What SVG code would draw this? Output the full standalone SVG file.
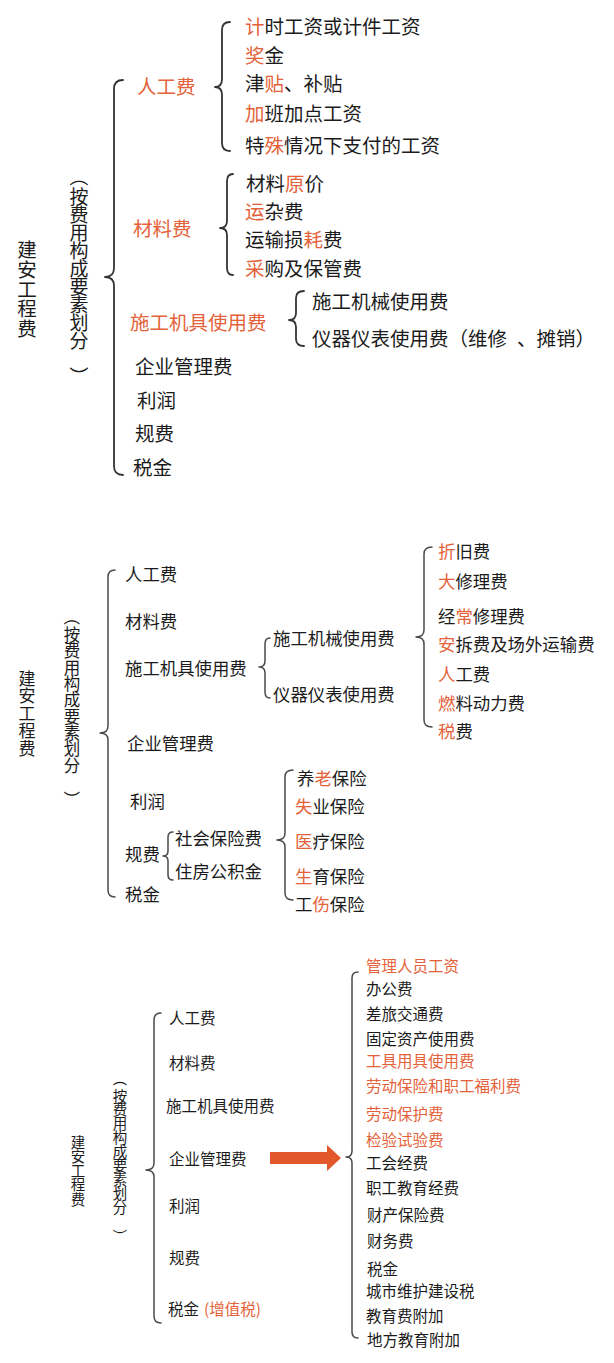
<svg xmlns="http://www.w3.org/2000/svg" width="614" height="1363" viewBox="0 0 614 1363">
<style>
text{font-family:"Noto Sans CJK SC","Noto Sans",sans-serif;fill:#1b1b1b;dominant-baseline:central}
.a{font-size:19.5px}
.b{font-size:17.4px}
.c{font-size:15.5px}
.o{fill:#E4623A}
.m{text-anchor:middle}
.br{fill:none;stroke:#333;stroke-width:1.8;stroke-linejoin:round;stroke-linecap:round}
.br2{fill:none;stroke:#4a4a4a;stroke-width:1.5;stroke-linejoin:round;stroke-linecap:round}
.arr{fill:#E2582B}
</style>
<rect width="614" height="1363" fill="#fff"/>
<g id="connectors">
<path class="br" d="M123,80 Q114,80 114,89 L114,268 Q114,277 105,277 Q114,277 114,286 L114,466 Q114,475 123,475"/>
<path class="br" d="M230,22 Q222,22 222,30 L222,79 Q222,87 215,87 Q222,87 222,95 L222,143 Q222,151 230,151"/>
<path class="br" d="M233,174 Q227,174 227,181 L227,221 Q227,228 220,228 Q227,228 227,235 L227,268 Q227,275 233,275"/>
<path class="br" d="M304,291 Q296,291 296,298 L296,313 Q296,320 289,320 Q296,320 296,327 L296,339 Q296,346 304,346"/>
<path class="br2" d="M115,570 Q108,570 108,577 L108,726 Q108,733 100,733 Q108,733 108,740 L108,890 Q108,897 115,897"/>
<path class="br2" d="M270,638 Q265,638 265,644 L265,661 Q265,667 259,667 Q265,667 265,673 L265,692 Q265,698 270,698"/>
<path class="br2" d="M432,547 Q424,547 424,554 L424,630 Q424,637 416,637 Q424,637 424,644 L424,720 Q424,727 432,727"/>
<path class="br2" d="M173,832 Q168,832 168,837 L168,851 Q168,856 163,856 Q168,856 168,861 L168,875 Q168,880 173,880"/>
<path class="br2" d="M293,770 Q285,770 285,777 L285,833 Q285,840 277,840 Q285,840 285,847 L285,893 Q285,900 293,900"/>
<path class="br2" d="M161,1013 Q154,1013 154,1020 L154,1163 Q154,1170 146,1170 Q154,1170 154,1177 L154,1316 Q154,1323 161,1323"/>
<path class="br2" d="M358,972 Q352,972 352,978 L352,1151 Q352,1157 346,1157 Q352,1157 352,1163 L352,1332 Q352,1338 358,1338"/>
<polygon class="arr" points="270,1152 327,1152 327,1145 341,1158 327,1171 327,1164 270,1164"/>
</g>

<!-- Section 1 -->
<g id="s1-root"><text class="a m" x="27 27 27 27 27" y="248 268 288 307 327">建安工程费</text></g>
<g id="s1-by">
<text class="m" style="font-size:19px" x="79" y="177" transform="rotate(90 79 177)">（</text>
<text class="m" style="font-size:19px" x="79 79 79 79 79 79 79 79 79 79" y="195 213 231 249 267 285 303 321 339 357">按费用构成要素划分</text>
<text class="m" style="font-size:19px" x="79" y="376" transform="rotate(90 79 376)">）</text>
</g>
<g id="s1-rg"><text class="a o" x="137" y="85">人工费</text></g>
<g id="s1-rg1"><text class="a" x="245" y="25"><tspan class="o">计</tspan>时工资或计件工资</text></g>
<g id="s1-rg2"><text class="a" x="245" y="54"><tspan class="o">奖</tspan>金</text></g>
<g id="s1-rg3"><text class="a" x="245" y="82">津<tspan class="o">贴</tspan>、补贴</text></g>
<g id="s1-rg4"><text class="a" x="245" y="112"><tspan class="o">加</tspan>班加点工资</text></g>
<g id="s1-rg5"><text class="a" x="245" y="144">特<tspan class="o">殊</tspan>情况下支付的工资</text></g>
<g id="s1-cl"><text class="a o" x="133" y="227">材料费</text></g>
<g id="s1-cl1"><text class="a" x="246" y="182">材料<tspan class="o">原</tspan>价</text></g>
<g id="s1-cl2"><text class="a" x="245" y="210"><tspan class="o">运</tspan>杂费</text></g>
<g id="s1-cl3"><text class="a" x="245" y="238">运输损<tspan class="o">耗</tspan>费</text></g>
<g id="s1-cl4"><text class="a" x="245" y="267"><tspan class="o">采</tspan>购及保管费</text></g>
<g id="s1-jj"><text class="a o" x="130" y="321">施工机具使用费</text></g>
<g id="s1-jj1"><text class="a" x="312" y="300">施工机械使用费</text></g>
<g id="s1-jj2"><text class="a" x="312" y="337">仪器仪表使用费（维修<tspan dx="10">、</tspan>摊销）</text></g>
<g id="s1-gl"><text class="a" x="135" y="365">企业管理费</text></g>
<g id="s1-lr"><text class="a" x="137" y="399">利润</text></g>
<g id="s1-gf"><text class="a" x="135" y="432">规费</text></g>
<g id="s1-sj"><text class="a" x="133" y="466">税金</text></g>

<!-- Section 2 -->
<g id="s2-root"><text class="m" style="font-size:17px" x="27 27 27 27 27" y="677 694.5 712 729.5 747">建安工程费</text></g>
<g id="s2-by">
<text class="m" style="font-size:16.5px" x="72" y="617" transform="rotate(90 72 617)">（</text>
<text class="m" style="font-size:16.5px" x="72 72 72 72 72 72 72 72 72 72" y="634 650.3 666.7 683 699.3 715.7 732 748.3 764.7 781">按费用构成要素划分</text>
<text class="m" style="font-size:16.5px" x="72" y="799" transform="rotate(90 72 799)">）</text>
</g>
<g id="s2-rg"><text class="b" x="125" y="573">人工费</text></g>
<g id="s2-cl"><text class="b" x="125" y="620">材料费</text></g>
<g id="s2-jj"><text class="b" x="125" y="667">施工机具使用费</text></g>
<g id="s2-gl"><text class="b" x="127" y="742">企业管理费</text></g>
<g id="s2-lr"><text class="b" x="130" y="800">利润</text></g>
<g id="s2-gf"><text class="b" x="125" y="853">规费</text></g>
<g id="s2-sj"><text class="b" x="125" y="893">税金</text></g>
<g id="s2-jx"><text class="b" x="273" y="637">施工机械使用费</text></g>
<g id="s2-yq"><text class="b" x="273" y="693">仪器仪表使用费</text></g>
<g id="s2-jx1"><text class="b" x="438" y="550"><tspan class="o">折</tspan>旧费</text></g>
<g id="s2-jx2"><text class="b" x="438" y="580"><tspan class="o">大</tspan>修理费</text></g>
<g id="s2-jx3"><text class="b" x="438" y="615">经<tspan class="o">常</tspan>修理费</text></g>
<g id="s2-jx4"><text class="b" x="438" y="643"><tspan class="o">安</tspan>拆费及场外运输费</text></g>
<g id="s2-jx5"><text class="b" x="438" y="673"><tspan class="o">人</tspan>工费</text></g>
<g id="s2-jx6"><text class="b" x="438" y="702"><tspan class="o">燃</tspan>料动力费</text></g>
<g id="s2-jx7"><text class="b" x="438" y="730"><tspan class="o">税</tspan>费</text></g>
<g id="s2-sb"><text class="b" x="175" y="837">社会保险费</text></g>
<g id="s2-gj"><text class="b" x="175" y="870">住房公积金</text></g>
<g id="s2-sb1"><text class="b" x="297" y="777">养<tspan class="o">老</tspan>保险</text></g>
<g id="s2-sb2"><text class="b" x="295" y="805"><tspan class="o">失</tspan>业保险</text></g>
<g id="s2-sb3"><text class="b" x="295" y="840"><tspan class="o">医</tspan>疗保险</text></g>
<g id="s2-sb4"><text class="b" x="295" y="875"><tspan class="o">生</tspan>育保险</text></g>
<g id="s2-sb5"><text class="b" x="295" y="903">工<tspan class="o">伤</tspan>保险</text></g>

<!-- Section 3 -->
<g id="s3-root"><text class="m" style="font-size:14.5px" x="78 78 78 78 78" y="1141 1155.3 1169.5 1183.8 1198">建安工程费</text></g>
<g id="s3-by">
<text class="m" style="font-size:14.5px" x="120" y="1079" transform="rotate(90 120 1079)">（</text>
<text class="m" style="font-size:14.5px" x="120 120 120 120 120 120 120 120 120 120" y="1095 1108.9 1122.8 1136.7 1150.6 1164.5 1178.4 1192.3 1206.2 1220">按费用构成要素划分</text>
<text class="m" style="font-size:14.5px" x="120" y="1236" transform="rotate(90 120 1236)">）</text>
</g>
<g id="s3-rg"><text class="c" x="169" y="1017">人工费</text></g>
<g id="s3-cl"><text class="c" x="169" y="1062">材料费</text></g>
<g id="s3-jj"><text class="c" x="166" y="1105">施工机具使用费</text></g>
<g id="s3-gl"><text class="c" x="169" y="1158">企业管理费</text></g>
<g id="s3-lr"><text class="c" x="169" y="1205">利润</text></g>
<g id="s3-gf"><text class="c" x="169" y="1257">规费</text></g>
<g id="s3-sj"><text class="c" x="168" y="1308">税金<tspan class="o" dx="5">(增值税)</tspan></text></g>
<g id="s3-g1"><text class="c o" x="366" y="965">管理人员工资</text></g>
<g id="s3-g2"><text class="c" x="366" y="988">办公费</text></g>
<g id="s3-g3"><text class="c" x="366" y="1013">差旅交通费</text></g>
<g id="s3-g4"><text class="c" x="366" y="1038">固定资产使用费</text></g>
<g id="s3-g5"><text class="c o" x="366" y="1060">工具用具使用费</text></g>
<g id="s3-g6"><text class="c o" x="366" y="1085">劳动保险和职工福利费</text></g>
<g id="s3-g7"><text class="c o" x="366" y="1113">劳动保护费</text></g>
<g id="s3-g8"><text class="c o" x="366" y="1139">检验试验费</text></g>
<g id="s3-g9"><text class="c" x="366" y="1162">工会经费</text></g>
<g id="s3-g10"><text class="c" x="366" y="1187">职工教育经费</text></g>
<g id="s3-g11"><text class="c" x="367" y="1214">财产保险费</text></g>
<g id="s3-g12"><text class="c" x="367" y="1240">财务费</text></g>
<g id="s3-g13"><text class="c" x="367" y="1268">税金</text></g>
<g id="s3-g14"><text class="c" x="366" y="1290">城市维护建设税</text></g>
<g id="s3-g15"><text class="c" x="366" y="1315">教育费附加</text></g>
<g id="s3-g16"><text class="c" x="367" y="1339">地方教育附加</text></g>
</svg>
